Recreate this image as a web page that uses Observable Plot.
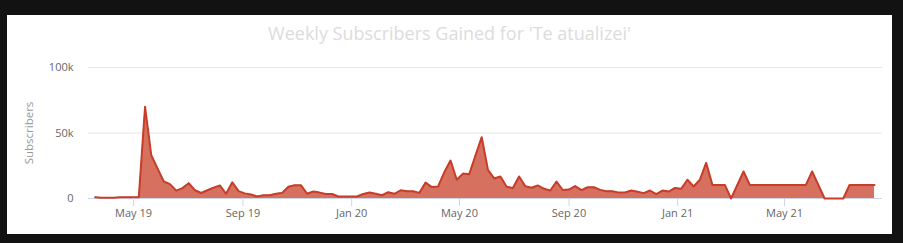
<!DOCTYPE html>
<html>
<head>
<meta charset="utf-8">
<script src="https://cdn.jsdelivr.net/npm/d3@7"></script>
<script src="https://cdn.jsdelivr.net/npm/@observablehq/plot@0.6"></script>
<style>
  html, body { margin: 0; padding: 0; background: #121212; width: 903px; height: 243px; overflow: hidden; }
  #panel { position: absolute; left: 7px; top: 15px; width: 885px; height: 219px; background: #ffffff; }
  #title { height: 30px; padding-top: 3px; line-height: 30px; text-align: center; font-family: "Open Sans", sans-serif; font-size: 18px; color: #dcdcdc; }
  #chart svg { display: block; }
</style>
</head>
<body>
<div id="panel">
  <div id="title">Weekly Subscribers Gained for 'Te atualizei'</div>
  <div id="chart"></div>
</div>
<script>
// First week of the series, then one value per week
const startWeek = "2019-03-19";
const weeklyGained = [
  1000, 500, 500, 500, 1000, 1000, 1000, 1000, 70000, 33000,
  23000, 13000, 11000, 6000, 7900, 11700, 6300, 4200, 6300, 8300,
  10000, 3600, 12400, 5600, 3900, 3000, 1500, 2500, 2500, 3600,
  4300, 9000, 10200, 10200, 3600, 5300, 4500, 3500, 3400, 1500,
  1500, 1500, 1500, 3400, 4600, 3600, 2500, 4800, 3600, 6300,
  5600, 5500, 4300, 12200, 8700, 9200, 20000, 29000, 14300, 19000,
  18600, 32800, 46800, 21800, 15300, 16800, 8900, 8000, 16800, 9400,
  8200, 10000, 7400, 6100, 13000, 6500, 6800, 9500, 6400, 8600,
  8600, 6600, 5600, 5500, 4500, 4600, 6100, 5100, 4100, 6100,
  3400, 6100, 5300, 8100, 7400, 14300, 9200, 14300, 27200, 10400,
  10400, 10400, 0, 10300, 20600, 10400, 10400, 10400, 10400, 10400,
  10400, 10400, 10400, 10400, 10400, 20600, 10300, 0, 0, 0,
  0, 10400, 10400, 10400, 10400, 10400
];
const xTickDates = ["2019-05-01", "2019-09-01", "2020-01-01", "2020-05-01", "2020-09-01", "2021-01-01", "2021-05-01"];
const xTickLabels = ["May 19", "Sep 19", "Jan 20", "May 20", "Sep 20", "Jan 21", "May 21"];
const yTicks = [0, 50000, 100000];
const yTickLabels = ["0", "50k", "100k"];
const yGrid = [50000, 100000];
const xDomain = ["2019-03-11T12:00:00Z", "2021-08-19T00:00:00Z"];

const start = new Date(startWeek + "T00:00:00Z");
const data = weeklyGained.map((v, i) => ({ date: d3.utcDay.offset(start, 7 * i), value: v }));
const tickDates = xTickDates.map(s => new Date(s + "T00:00:00Z"));
const tickLabelOf = d => xTickLabels[tickDates.findIndex(t => +t === +d)];

const chart = Plot.plot({
  width: 885,
  height: 186,
  marginLeft: 81,
  marginRight: 10,
  marginTop: 19,
  marginBottom: 36,
  style: { fontFamily: "'Open Sans', sans-serif", fontSize: "11px", background: "transparent" },
  x: { type: "utc", domain: xDomain.map(s => new Date(s)) },
  y: { domain: [0, 100000] },
  marks: [
    Plot.gridY(yGrid, { stroke: "#e6e6e6", strokeOpacity: 1 }),
    Plot.areaY(data, { x: "date", y: "value", fill: "#d6705f", fillOpacity: 1 }),
    Plot.ruleY([0], { stroke: "#ccd6eb", strokeWidth: 1 }),
    Plot.lineY(data, { x: "date", y: "value", stroke: "#c73d29", strokeWidth: 2, strokeLinejoin: "round" }),
    Plot.axisX(tickDates, { tickSize: 8, tickPadding: 3, stroke: "#ccd6eb", fill: "#666", tickFormat: tickLabelOf, label: null }),
    Plot.axisY(yTicks, { tickSize: 0, tickPadding: 15, fill: "#666", tickFormat: d => yTickLabels[yTicks.indexOf(d)], label: null }),
    Plot.text(["Subscribers"], { frameAnchor: "left", textAnchor: "middle", lineAnchor: "middle", rotate: -90, dx: -59, fill: "#999", fontSize: 11.5 })
  ]
});
document.getElementById("chart").appendChild(chart);
</script>
</body>
</html>
